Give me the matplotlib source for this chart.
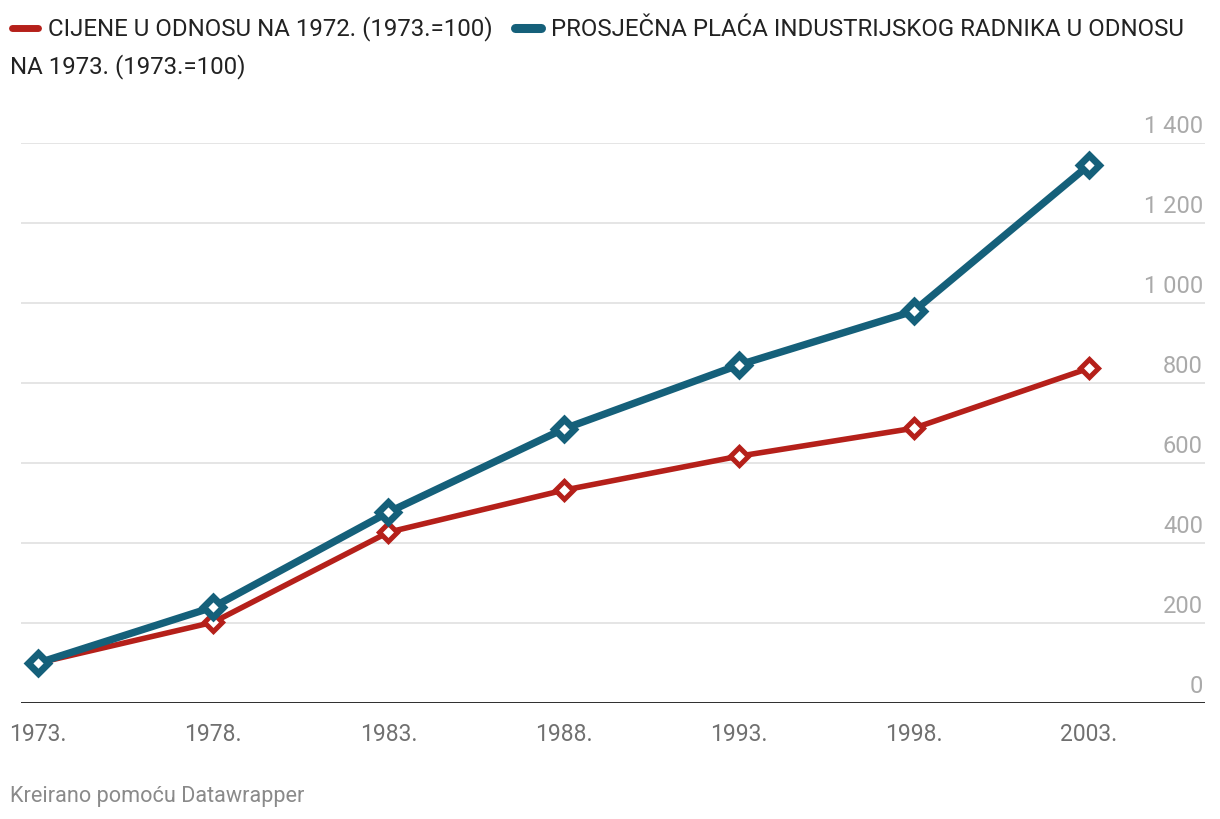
import matplotlib
matplotlib.use("Agg")
import matplotlib.pyplot as plt
from matplotlib.lines import Line2D
import matplotlib.transforms as mtransforms

years = [1973, 1978, 1983, 1988, 1993, 1998, 2003]
year_labels = ["1973.", "1978.", "1983.", "1988.", "1993.", "1998.", "2003."]
prices = [100, 202, 427, 532, 617, 687, 837]
wages = [100, 240, 477, 685, 845, 980, 1345]
y_ticks = [0, 200, 400, 600, 800, 1000, 1200, 1400]
y_tick_labels = ["0", "200", "400", "600", "800", "1 000", "1 200", "1 400"]
label_prices = "CIJENE U ODNOSU NA 1972. (1973.=100)"
label_wages_1 = "PROSJEČNA PLAĆA INDUSTRIJSKOG RADNIKA U ODNOSU"
label_wages_2 = "NA 1973. (1973.=100)"
footer = "Kreirano pomoću Datawrapper"

RED = "#b5201a"
BLUE = "#15607a"

plt.rcParams['font.family'] = ['Roboto', 'DejaVu Sans']

W, H = 1220, 820
fig = plt.figure(figsize=(W / 100, H / 100), dpi=100)
ax = fig.add_axes([21 / W, (H - 704) / H, (1205 - 21) / W, (704 - 144) / H])

ax.set_xlim(1972.51, 2006.31)
ax.set_ylim(0, 1400)

for t in y_ticks[1:]:
    ax.axhline(t, color="#e3e3e3", lw=1.3, zorder=0)
ax.axhline(0, color="#1a1a1a", lw=2, zorder=1)

ax.plot(years, prices, color=RED, lw=4.0, marker="D", ms=9.5, mew=3.6,
        mfc="white", mec=RED, zorder=3, clip_on=False, solid_joinstyle="miter")
ax.plot(years, wages, color=BLUE, lw=5.3, marker="D", ms=10.5, mew=5.0,
        mfc="white", mec=BLUE, zorder=4, clip_on=False, solid_joinstyle="miter")

for s in ax.spines.values():
    s.set_visible(False)
ax.set_yticks([])
ax.set_xticks(years)
ax.set_xticklabels(year_labels, fontsize=16.5, color="#707070")
ax.tick_params(axis="x", length=0, pad=14)

trans = mtransforms.blended_transform_factory(ax.transAxes, ax.transData)
for t, lab in zip(y_ticks, y_tick_labels):
    txt = ax.text(1.0, t, lab, fontsize=17, color="#aaaaaa", ha="right", va="bottom")
    txt.set_transform(trans + mtransforms.ScaledTranslation(-2 / 100, 6 / 100, fig.dpi_scale_trans))

# legend (manual, wraps like the original)
def fx(x):
    return x / W

def fy(y):
    return 1 - y / H

LF = 17.3
fig.add_artist(Line2D([fx(12), fx(38)], [fy(29), fy(29)], color=RED, lw=5,
                      solid_capstyle="round"))
fig.text(fx(48), fy(29), label_prices, fontsize=LF, color="#222222", va="center", ha="left")
fig.add_artist(Line2D([fx(515), fx(541)], [fy(29), fy(29)], color=BLUE, lw=6.5,
                      solid_capstyle="round"))
fig.text(fx(551), fy(29), label_wages_1, fontsize=LF, color="#222222", va="center", ha="left")
fig.text(fx(10), fy(67), label_wages_2, fontsize=LF, color="#222222", va="center", ha="left")

fig.text(fx(10), fy(797), footer, fontsize=15.6, color="#8a8a8a", va="center", ha="left")

fig.savefig("out.png", dpi=100, facecolor="white")
